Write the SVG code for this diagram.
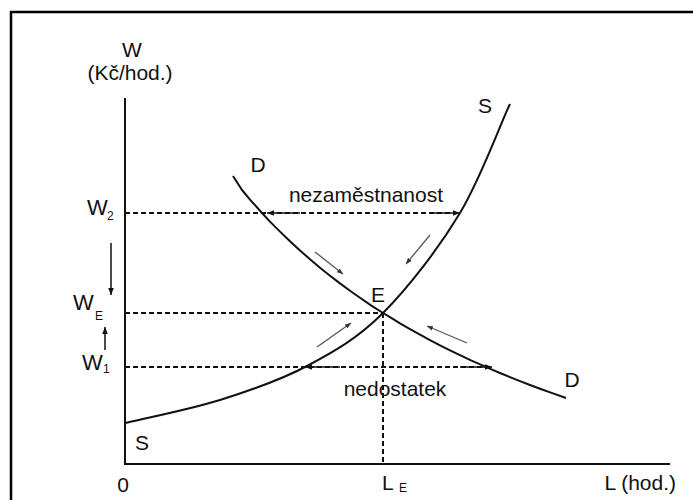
<svg xmlns="http://www.w3.org/2000/svg" width="693" height="500" viewBox="0 0 693 500">
<style>
text{font-family:"Liberation Sans",Arial,sans-serif;fill:#111}
.t{font-size:21px}
.w{font-size:22px}
.sub{font-size:12px}
.ax{stroke:#111;stroke-width:2;fill:none}
.cv{stroke:#111;stroke-width:2;fill:none;stroke-linejoin:round}
.dash{stroke:#111;stroke-width:2;stroke-dasharray:5 3;fill:none}
.sa{stroke:#555;stroke-width:1.3;fill:none}
.ar{stroke:#111;stroke-width:1.5;fill:none}
</style>
<defs>
<marker id="ah" viewBox="0 0 10 10" refX="10" refY="5" markerWidth="7" markerHeight="7" markerUnits="userSpaceOnUse" orient="auto"><path d="M0,1 L10,5 L0,9 z" fill="#111"/></marker>
<marker id="sh" viewBox="0 0 10 10" refX="10" refY="5" markerWidth="6" markerHeight="6" markerUnits="userSpaceOnUse" orient="auto"><path d="M0,1 L10,5 L0,9 z" fill="#333"/></marker>
</defs>
<rect x="11" y="12" width="700" height="500" fill="none" stroke="#000" stroke-width="2.5"/>
<g id="axes">
<path class="ax" d="M125,98 V464 H670"/>
<text class="t" x="132" y="57" text-anchor="middle">W</text>
<text class="t" x="130" y="80" text-anchor="middle">(Kč/hod.)</text>
<text class="t" x="123" y="492" text-anchor="middle">0</text>
<text class="t" x="676" y="490" text-anchor="end">L (hod.)</text>
</g>
<g id="connectors">
<path class="dash" d="M125,213 H460"/>
<path class="dash" d="M125,313 H383"/>
<path class="dash" d="M125,367 H490"/>
<path class="dash" d="M383,313 V464"/>
<path class="ar" d="M300,213 H267" marker-end="url(#ah)"/>
<path class="ar" d="M430,213 H460" marker-end="url(#ah)"/>
<path class="ar" d="M340,367 H305" marker-end="url(#ah)"/>
<path class="ar" d="M460,367 H492" marker-end="url(#ah)"/>
<path class="sa" d="M315,252 L343,274" marker-end="url(#sh)"/>
<path class="sa" d="M430,235 L406,264" marker-end="url(#sh)"/>
<path class="sa" d="M317,347 L351,323" marker-end="url(#sh)"/>
<path class="sa" d="M467,343 L427,326" marker-end="url(#sh)"/>
<path class="ar" d="M111,243 V295" marker-end="url(#ah)"/>
<path class="ar" d="M105,350 V327" marker-end="url(#ah)"/>
</g>
<g id="supply">
<path class="cv" d="M125,423 C140.8,419.2 189.7,409.5 220,400 C250.3,390.5 279.8,380.5 307,366 C334.2,351.5 357.5,338.5 383,313 C408.5,287.5 438.8,248.2 460,213 C481.2,177.8 501.7,120.5 510,104"/>
<text class="t" x="485" y="113" text-anchor="middle">S</text>
<text class="t" x="142" y="450" text-anchor="middle">S</text>
</g>
<g id="demand">
<polyline class="cv" points="233,176 242,190 250,199.6 262,213 270,221.6 280,231.6 290,241.2 300,250.5 310,259.2 320,267.7 330,275.7 340,283.4 350,290.7 360,297.8 371,305.3 383,313 392,318.4 400,323.4 410,329.1 420,334.7 430,340.1 440,345.3 450,350.3 460,355.2 471,360.4 483,365.7 492,369.6 500,373 510,377.1 520,381.1 530,385 540,388.7 553,393.4 566,398"/>
<text class="t" x="258" y="172" text-anchor="middle">D</text>
<text class="t" x="572" y="387" text-anchor="middle">D</text>
</g>
<g id="labels">
<text class="t" x="366" y="202" text-anchor="middle">nezaměstnanost</text>
<text class="t" x="395" y="396" text-anchor="middle">nedostatek</text>
<text class="t" x="378" y="302" text-anchor="middle">E</text>
<text class="w" x="87" y="215">W</text><text class="sub" x="107" y="220">2</text>
<text class="w" x="73" y="310">W</text><text class="sub" x="95" y="320">E</text>
<text class="w" x="82" y="370">W</text><text class="sub" x="103" y="373">1</text>
<text class="t" x="382" y="490">L</text><text class="sub" x="399" y="492">E</text>
</g>
</svg>
